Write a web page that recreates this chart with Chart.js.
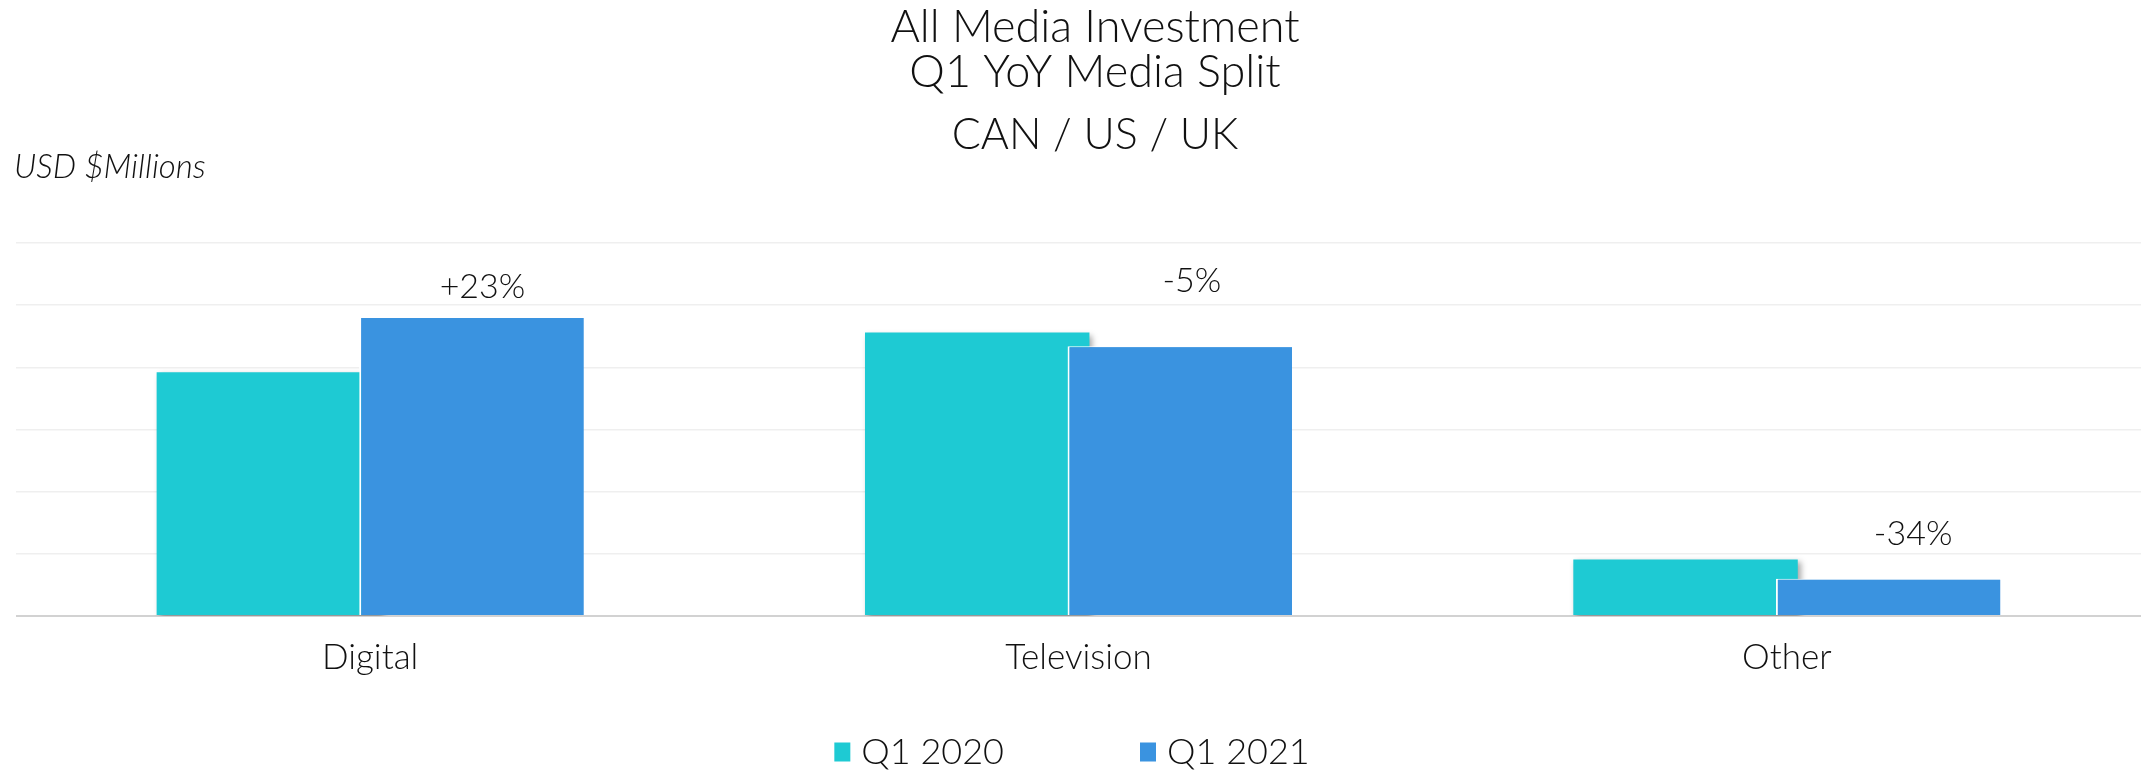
<!DOCTYPE html>
<html>
<head>
<meta charset="utf-8">
<script src="https://cdn.jsdelivr.net/npm/chart.js@4.4.1/dist/chart.umd.min.js"></script>
<style>
  html, body { margin: 0; padding: 0; background: #fff; }
</style>
</head>
<body>
<canvas id="mediaChart" width="2141" height="770"></canvas>
<script>
var categories = ["Digital", "Television", "Other"];
var q1_2020 = [392, 456, 91];
var q1_2021 = [481, 434, 60];
var changeLabels = ["+23%", "-5%", "-34%"];
var seriesNames = ["Q1 2020", "Q1 2021"];
var titleLines = ["All Media Investment", "Q1 YoY Media Split"];
var subTitle = "CAN / US / UK";
var unitLabel = "USD $Millions";

var FONT = "Lato";
var INK = "#111111";

// soft shadow under the first series, and the 2021 bars drawn over it
var shadowPlugin = {
  id: "barShadow",
  beforeDatasetDraw: function (chart, args) {
    if (args.index !== 0) return;
    var ctx = chart.ctx;
    ctx.save();
    ctx.shadowColor = "rgba(0,0,0,0.35)";
    ctx.shadowBlur = 6;
    ctx.shadowOffsetX = 3;
    ctx.shadowOffsetY = 3;
  },
  afterDatasetDraw: function (chart, args) {
    if (args.index !== 0) return;
    chart.ctx.restore();
    // chart.js paints dataset 0 last; repaint dataset 1 so it overlaps
    chart.getDatasetMeta(1).controller.draw();
  }
};

// titles, unit label, % change labels and legend
var textPlugin = {
  id: "texts",
  afterDraw: function (chart) {
    var ctx = chart.ctx;
    ctx.save();
    ctx.fillStyle = INK;
    ctx.textAlign = "center";
    ctx.textBaseline = "middle";

    ctx.font = "300 45px " + FONT;
    ctx.fillText(titleLines[0], 1095, 27);
    ctx.fillText(titleLines[1], 1095, 72);
    ctx.font = "300 43px " + FONT;
    ctx.fillText(subTitle, 1095, 135);

    ctx.textAlign = "left";
    ctx.font = "italic 300 33px " + FONT;
    ctx.fillText(unitLabel, 14, 167);

    // change labels above the 2021 bars
    var lift = [30, 65, 45];
    var shiftX = [11, 12, 25];
    ctx.textAlign = "center";
    ctx.font = "300 34px " + FONT;
    chart.getDatasetMeta(1).data.forEach(function (bar, i) {
      ctx.fillText(changeLabels[i], bar.x + shiftX[i], bar.y - lift[i]);
    });

    // legend
    ctx.font = "300 36px " + FONT;
    var boxW = 16, boxH = 19, gap = 11, itemGap = 136;
    var widths = chart.data.datasets.map(function (d) { return ctx.measureText(d.label).width; });
    var total = widths.reduce(function (a, w) { return a + boxW + gap + w; }, 0) + itemGap * (widths.length - 1);
    var x = 1072 - total / 2;
    var y = 752;
    ctx.textAlign = "left";
    chart.data.datasets.forEach(function (d, i) {
      ctx.fillStyle = d.backgroundColor;
      ctx.fillRect(x, y - boxH / 2, boxW, boxH);
      ctx.fillStyle = INK;
      ctx.fillText(d.label, x + boxW + gap, y);
      x += boxW + gap + widths[i] + itemGap;
    });
    ctx.restore();
  }
};

var ctx = document.getElementById("mediaChart").getContext("2d");
var myChart = new Chart(ctx, {
  type: "bar",
  data: {
    labels: categories,
    datasets: [
      {
        label: seriesNames[0],
        data: q1_2020,
        backgroundColor: "#1ECAD3",
        borderWidth: 0
      },
      {
        label: seriesNames[1],
        data: q1_2021,
        backgroundColor: "#3A93E0",
        borderColor: "#ffffff",
        borderWidth: { left: 2, top: 1, right: 0, bottom: 0 }
      }
    ]
  },
  options: {
    responsive: false,
    animation: false,
    categoryPercentage: 0.572,
    barPercentage: 1.108,
    layout: {
      padding: { top: 243, left: 16, right: 0, bottom: 78 }
    },
    plugins: {
      legend: { display: false },
      title: { display: false },
      tooltip: { enabled: false }
    },
    scales: {
      x: {
        grid: { display: false },
        border: { display: false },
        ticks: {
          color: INK,
          padding: 13,
          font: { family: FONT, size: 35, weight: "300" }
        }
      },
      y: {
        min: 0,
        max: 600,
        ticks: { display: false, stepSize: 100 },
        border: { display: false },
        grid: {
          drawTicks: false,
          color: function (c) { return c.tick && c.tick.value === 0 ? "#d2d2d2" : "#efefef"; },
          lineWidth: function (c) { return c.tick && c.tick.value === 0 ? 2 : 1.5; }
        }
      }
    }
  },
  plugins: [shadowPlugin, textPlugin]
});
</script>
</body>
</html>
